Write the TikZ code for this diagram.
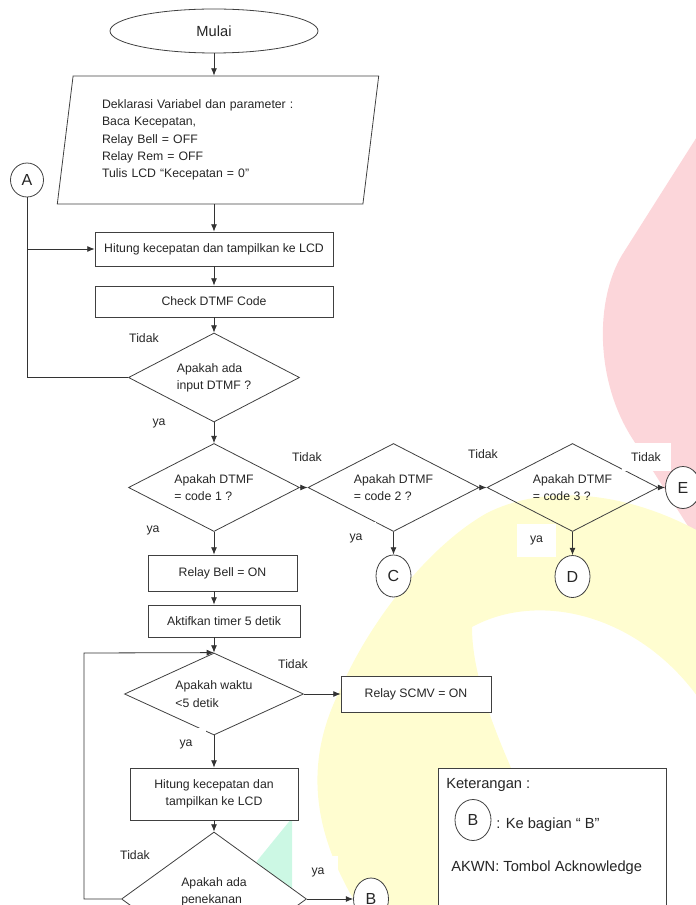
\documentclass[tikz,border=0pt]{standalone}
\usepackage{fontspec}
\setmainfont{Liberation Sans}
\usepackage{xcolor}
\usepackage{tikz}
\usetikzlibrary{arrows.meta,shapes.geometric}

\definecolor{wmpink}{RGB}{252,214,218}
\definecolor{wmyellow}{RGB}{255,253,208}
\definecolor{wmgreen}{RGB}{204,248,228}

\begin{document}
\begin{tikzpicture}[
    x=0.75pt, y=-0.75pt,
    every node/.style={font=\fontsize{9.2}{13}\selectfont, text=black!85},
    term/.style={draw=black!75, ellipse, minimum width=156pt, minimum height=33pt, fill=white, font=\fontsize{11}{13}\selectfont, line width=0.6pt},
    io/.style={draw=black!75, trapezium, trapezium left angle=81.1, trapezium right angle=98.9, trapezium stretches=true, minimum width=241.5pt, minimum height=96pt, inner sep=0pt, text width=174pt, align=left, line width=0.6pt},
    proc/.style={draw=black!75, rectangle, fill=white, align=center, inner sep=2pt, line width=0.6pt},
    decision/.style={draw=black!75, diamond, aspect=2, inner sep=0pt, align=left, line width=0.6pt},
    conn/.style={draw=black!75, ellipse, minimum width=26.25pt, minimum height=31.5pt, inner sep=0pt, fill=white, font=\fontsize{12}{14}\selectfont, line width=0.6pt},
    lbl/.style={fill=white, inner sep=0pt, minimum width=36.75pt, minimum height=21pt},
    lblya/.style={fill=white, inner sep=0pt, minimum width=29.25pt, minimum height=24.75pt},
    note/.style={anchor=west, inner sep=0pt, font=\fontsize{11}{13}\selectfont},
    arrow/.style={-{Latex[length=5.5pt,width=4.5pt]}, line width=0.6pt, draw=black!80},
    line/.style={line width=0.6pt, draw=black!80}
]
    \useasboundingbox (0,0) rectangle (695,905);

    % Watermark
    \fill[wmpink] (700,132) .. controls (660,195) .. (622,255) .. controls (595,300) and (595,380) .. (632,438) -- (700,545) -- cycle;
    \fill[wmyellow] (700,532) .. controls (620,488) and (540,486) .. (487,513) .. controls (430,545) and (370,620) .. (340,690) .. controls (305,760) and (310,830) .. (360,910) -- (560,910) -- (512,770) .. controls (490,720) and (472,670) .. (472,627) .. controls (540,590) and (640,615) .. (700,700) -- cycle;
    \fill[wmgreen] (257,861) -- (292,818) -- (292,905) -- (240,905) -- cycle;

    % Main column
    \node[term] (mulai) at (214,31) {Mulai};
    \node[io] (decl) at (218,140) {Deklarasi Variabel dan parameter :\\Baca Kecepatan,\\Relay Bell = OFF\\Relay Rem = OFF\\Tulis LCD “Kecepatan = 0”};
    \node[proc, minimum width=178.5pt, minimum height=25.5pt] (hitung) at (214,249) {Hitung kecepatan dan tampilkan ke LCD};
    \node[proc, minimum width=178.5pt, minimum height=23.25pt] (cek) at (214,301.5) {Check DTMF Code};
    \node[decision, minimum width=128.25pt, minimum height=66.75pt] (dec1) at (214,377.5) {Apakah ada\\input DTMF ?};

    % DTMF codes
    \node[decision, minimum width=128.25pt, minimum height=66pt] (dec2) at (214,487.5) {Apakah DTMF\\= code 1 ?};
    \node[decision, minimum width=128.25pt, minimum height=66pt] (dec3) at (393.5,487.5) {Apakah DTMF\\= code 2 ?};
    \node[decision, minimum width=128.25pt, minimum height=66pt] (dec4) at (572.5,487.5) {Apakah DTMF\\= code 3 ?};

    % Code 1 branch
    \node[proc, minimum width=111.75pt, minimum height=27pt] (bell) at (222.5,573) {Relay Bell = ON};
    \node[proc, minimum width=114pt, minimum height=24pt] (timer) at (224,621) {Aktifkan timer 5 detik};
    \node[decision, minimum width=134.25pt, minimum height=61.5pt] (dec5) at (214,694) {Apakah waktu\\<5 detik};
    \node[proc, minimum width=112.5pt, minimum height=27pt] (scmv) at (416,694) {Relay SCMV = ON};
    \node[proc, minimum width=126pt, minimum height=39pt] (hitung2) at (214,794) {Hitung kecepatan dan\\tampilkan ke LCD};
    \node[decision, fill=white, minimum width=138.75pt, minimum height=100.5pt] (dec6) at (214,899) {Apakah ada\\penekanan\\\mbox{}};
    \coordinate (loop) at (84,653);

    % Paths
    \draw[arrow] (mulai) -- (mulai |- decl.north);
    \draw[arrow] (mulai |- decl.south) -- (hitung);
    \draw[arrow] (hitung) -- (cek);
    \draw[arrow] (cek) -- (dec1);
    \draw[arrow] (dec1) -- (dec2);
    \draw[arrow] (dec2) -- (dec3);
    \draw[arrow] (dec3) -- (dec4);
    \draw[arrow] (dec2.south) -- (dec2.south |- bell.north);
    \draw[arrow] (dec2.south |- bell.south) -- (dec2.south |- timer.north);
    \draw[arrow] (dec5 |- timer.south) -- (dec5);
    \draw[arrow] (dec5) -- (scmv);
    \draw[arrow] (dec5) -- (hitung2);
    \draw[arrow] (hitung2) -- (dec6);
    \draw[arrow] (dec6.west) -| (loop) -- (dec5.north);

    % Labels
    \node[lbl] (tidak1) at (144,338) {Tidak};
    \node[lblya] (ya1) at (159,423) {ya};
    \node[lbl] (tidak2) at (307,457) {Tidak};
    \node[lblya] (ya2) at (153,530) {ya};
    \node[lbl] (tidak3) at (483,454) {Tidak};
    \node[lblya] (ya3) at (356,538) {ya};
    \node[lbl] (tidak4) at (646,457) {Tidak};
    \node[lblya] (ya4) at (536.5,540.5) {ya};
    \node[lbl] (tidak5) at (293,664) {Tidak};
    \node[lblya] (ya5) at (186,744) {ya};
    \node[lbl] (tidak6) at (135,855) {Tidak};
    \node[lblya] (ya6) at (318,872) {ya};

    % Connectors
    \node[conn, minimum width=24.75pt, minimum height=25.5pt] (conA) at (27,180) {A};
    \node[conn] (conC) at (393.5,576) {C};
    \node[conn] (conD) at (572.5,576.5) {D};
    \node[conn] (conE) at (683,487.5) {E};
    \node[conn] (conB) at (371,899) {B};

    \draw[line] (dec1.west) -| (conA);
    \draw[arrow] (conA |- hitung) -- (hitung);
    \draw[arrow] (dec4) -- (conE);
    \draw[arrow] (dec3) -- (conC);
    \draw[arrow] (dec4) -- (conD);
    \draw[arrow] (dec6) -- (conB);

    % Keterangan
    \node[draw=black!75, fill=white, minimum width=171pt, minimum height=112.5pt, line width=0.6pt] (legend) at (552,843) {};
    \node[note] (ket) at (446,785) {Keterangan :};
    \node[conn, minimum width=27pt, minimum height=30.75pt] (legB) at (473,820) {B};
    \node[note] (ketB) at (496,825) {: Ke bagian “ B”};
    \node[note] (akwn) at (451,868) {AKWN: Tombol Acknowledge};

\end{tikzpicture}
\end{document}
